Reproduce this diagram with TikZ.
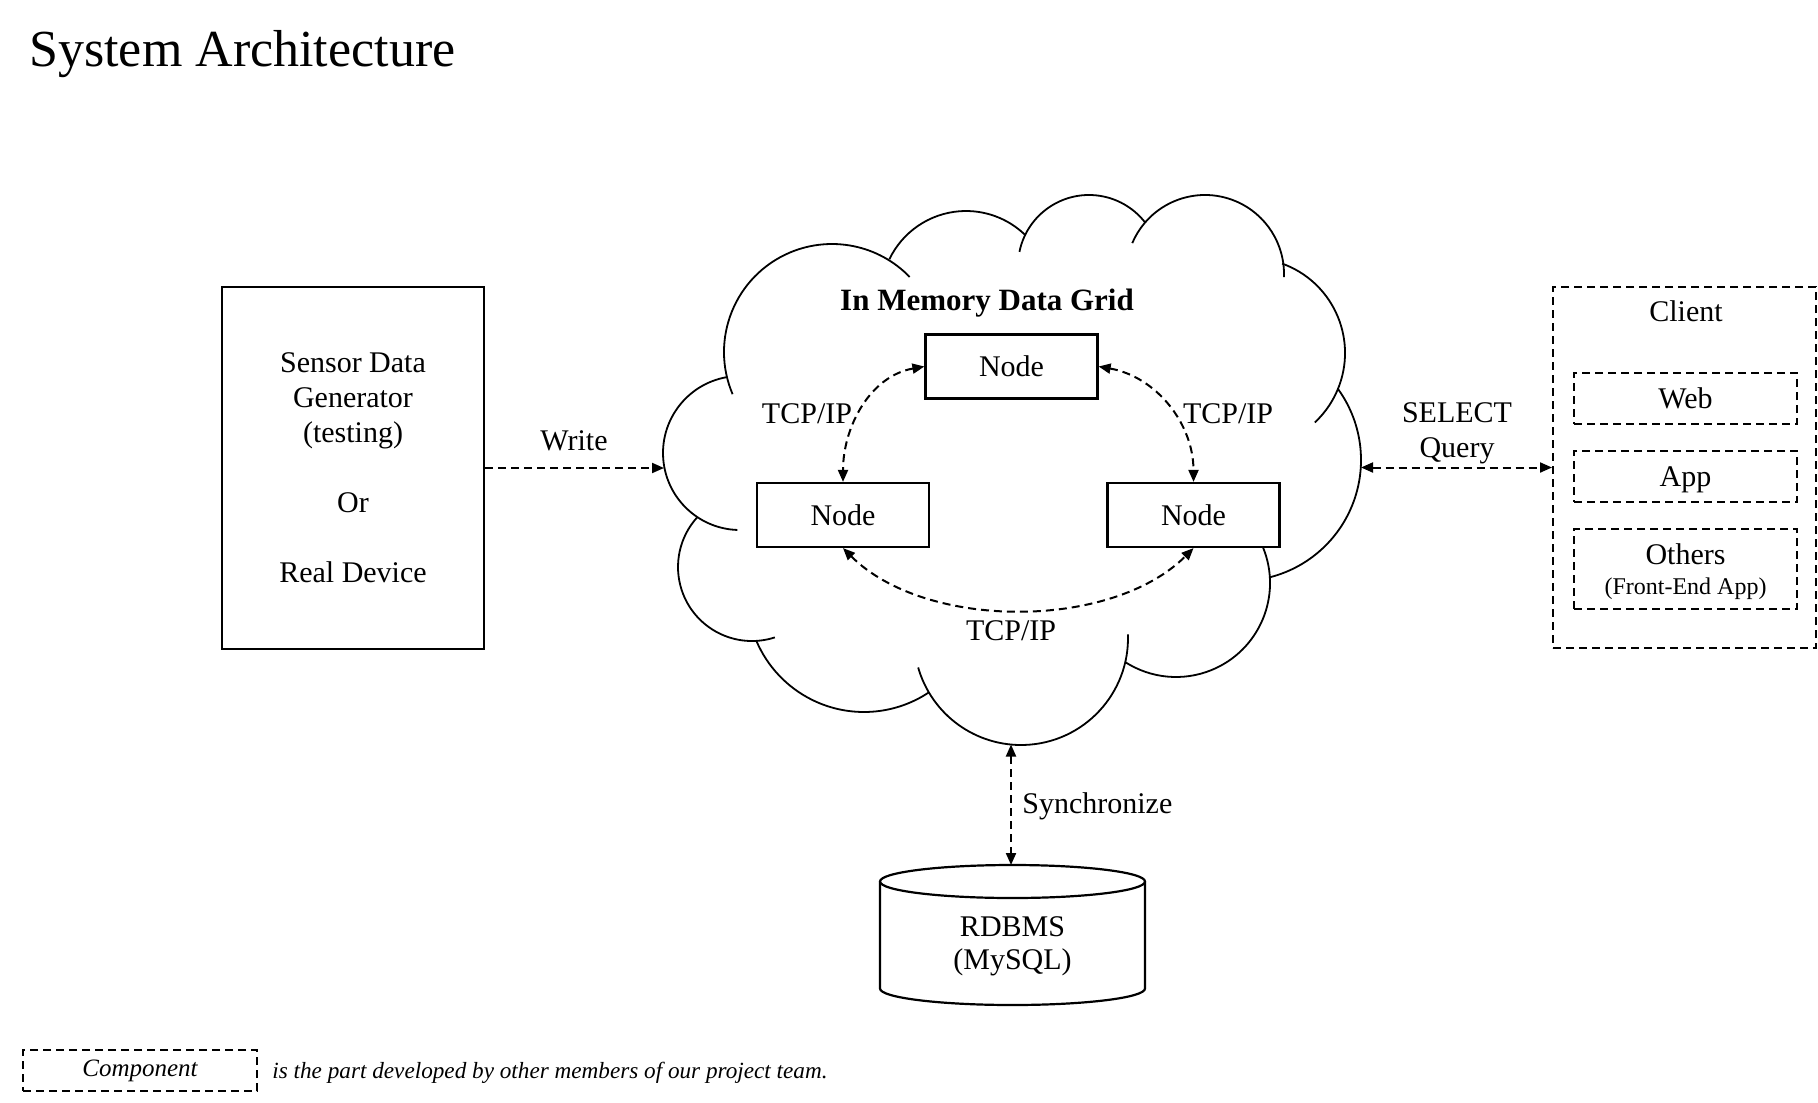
\documentclass[tikz,border=0pt]{standalone}
\usepackage{fontspec}
\setmainfont{Liberation Serif}
\usetikzlibrary{arrows.meta}

\begin{document}
\begin{tikzpicture}[x=0.5pt, y=0.5pt,
    font=\fontsize{15}{17.5}\selectfont,
    >={Triangle[length=6pt,width=5pt]},
    solidbox/.style={draw, line width=1.1pt, align=center, inner sep=0pt},
    dashbox/.style={draw, line width=1pt, dash pattern=on 4pt off 2.5pt, align=center, inner sep=0pt},
    nodebox/.style={solidbox, minimum width=86pt, minimum height=32pt},
    itembox/.style={dashbox, minimum width=111.5pt, minimum height=25.5pt, text depth=0pt},
    cloudline/.style={line width=0.9pt},
    link/.style={line width=1pt, dash pattern=on 4pt off 2.5pt},
    lbl/.style={inner sep=0pt}]
    \useasboundingbox (0,0) rectangle (1818,-1102);
    \node[lbl, anchor=base west, font=\fontsize{26}{30}\selectfont] (title) at (29,-67) {System Architecture};

    % sensor / device
    \node[solidbox, minimum width=131pt, minimum height=181pt] (sensor) at (353,-468)
        {Sensor Data\\Generator\\(testing)\\[17.5pt]Or\\[17.5pt]Real Device};
    \node[lbl, anchor=base] (write) at (574,-450) {Write};

    % cloud
    \draw[cloudline] ([shift={(99.7:77)}]740,-453) arc[start angle=99.7, end angle=268, radius=77];
    \draw[cloudline] ([shift={(203:108)}]832,-352) arc[start angle=203, end angle=44, radius=108];
    \draw[cloudline] ([shift={(154.3:85)}]966,-296) arc[start angle=154.3, end angle=46, radius=85];
    \draw[cloudline] ([shift={(168.5:71)}]1089,-266) arc[start angle=168.5, end angle=37.5, radius=71];
    \draw[cloudline] ([shift={(157:79)}]1205,-274) arc[start angle=157, end angle=-2.2, radius=79];
    \draw[cloudline] ([shift={(70.2:95)}]1250,-353) arc[start angle=70.2, end angle=-47, radius=95];
    \draw[cloudline] ([shift={(36:121)}]1240,-460) arc[start angle=36, end angle=-75.6, radius=121];
    \draw[cloudline] ([shift={(22:94)}]1176,-583) arc[start angle=22, end angle=-122.7, radius=94];
    \draw[cloudline] ([shift={(2:107)}]1021,-638) arc[start angle=2, end angle=-164, radius=107];
    \draw[cloudline] ([shift={(-56.3:117)}]864,-595) arc[start angle=-56.3, end angle=-156.9, radius=117];
    \draw[cloudline] ([shift={(-72:74)}]752,-567) arc[start angle=-72, end angle=-222.3, radius=74];
    \coordinate (cloudW) at (664,-468);
    \coordinate (cloudE) at (1361,-467.5);
    \coordinate (cloudS) at (1011,-744.5);

    \node[lbl, anchor=base, font=\fontsize{15.5}{18}\selectfont\bfseries] (gridlbl) at (987,-310) {In Memory Data Grid};
    \node[nodebox] (ntop) at (1011.5,-366.5) {Node};
    \node[nodebox] (nleft) at (843,-515) {Node};
    \node[nodebox] (nright) at (1193.5,-515) {Node};
    \node[lbl, anchor=base] (tcpl) at (807,-423) {TCP/IP};
    \node[lbl, anchor=base] (tcpr) at (1228,-423) {TCP/IP};
    \node[lbl, anchor=base] (tcpb) at (1011,-640) {TCP/IP};
    \draw[link, <->] (ntop.west) to[out=190, in=90] (nleft.north);
    \draw[link, <->] (ntop.east) to[out=-10, in=90] (nright.north);
    \draw[link, <->] (nleft.south) to[out=-45, in=-135, looseness=0.85] (nright.south);

    % client
    \node[dashbox, minimum width=131.5pt, minimum height=180.5pt] (client) at (1684.5,-467.5) {};
    \node[lbl, anchor=base] (clientlbl) at (1686,-321) {Client};
    \node[itembox] (web) at (1685.5,-398.5) {Web};
    \node[itembox] (app) at (1685.5,-476.5) {App};
    \node[dashbox, minimum width=111.5pt, minimum height=40pt, text depth=-2pt] (others) at (1685.5,-569)
        {Others\\[-2.5pt]{\fontsize{12}{14}\selectfont(Front-End App)}};
    \node[lbl, align=center] (select) at (1457,-433) {SELECT\\Query};

    % database
    \draw[line width=1.1pt] (880,-881.5) -- (880,-988.5)
        arc[start angle=180, end angle=360, x radius=132.5, y radius=16.5] -- (1145,-881.5);
    \draw[line width=1.1pt] (1012.5,-881.5) ellipse[x radius=132.5, y radius=16.5];
    \node[lbl, align=center] (db) at (1012.5,-946) {RDBMS\\[-1pt](MySQL)};
    \coordinate (dbtop) at (1011,-865);
    \node[lbl, anchor=base west] (sync) at (1022,-813) {Synchronize};

    \draw[link, ->] (sensor.east) -- (cloudW);
    \draw[link, <->] (cloudE) -- (client.west);
    \draw[link, <->] (cloudS) -- (dbtop);

    % legend
    \node[dashbox, minimum width=117pt, minimum height=20.5pt, font=\fontsize{12.5}{15}\selectfont\itshape] (legend) at (140,-1070.5) {Component};
    \node[lbl, anchor=base west, font=\fontsize{11.6}{14}\selectfont\itshape] (legendtxt) at (272,-1078)
        {is the part developed by other members of our project team.};
\end{tikzpicture}
\end{document}
